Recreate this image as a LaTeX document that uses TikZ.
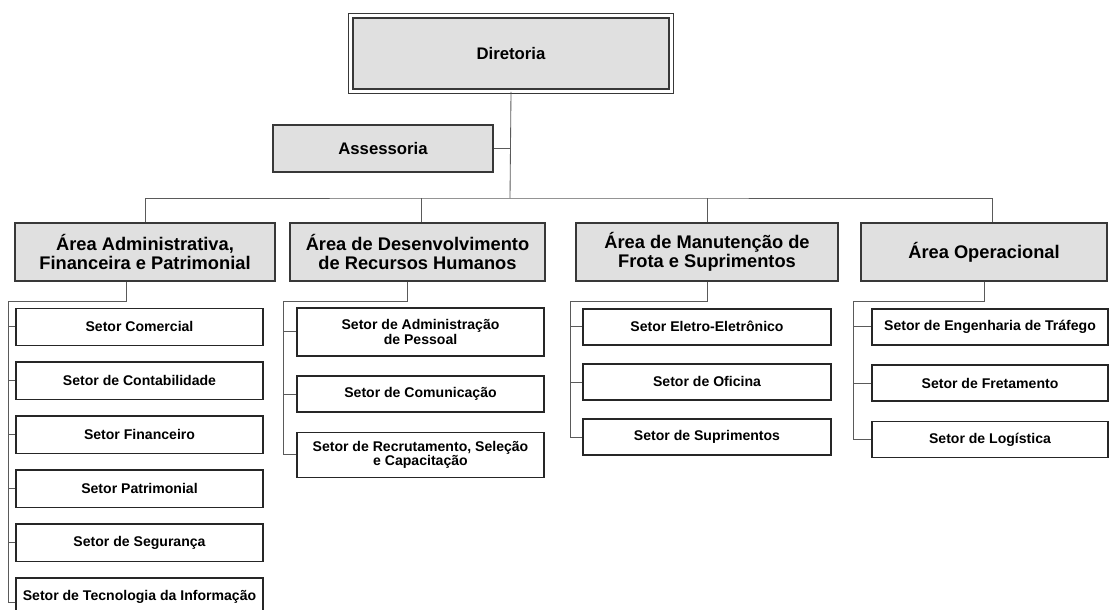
\documentclass[tikz,border=0pt]{standalone}
\usepackage{fontspec}
\setmainfont{Liberation Sans}
\usetikzlibrary{positioning}

\definecolor{boxgray}{HTML}{E0E0E0}
\definecolor{linegray}{HTML}{383838}
\definecolor{wiregray}{HTML}{5A5A5A}

\tikzset{
	topbox/.style={draw=linegray, fill=boxgray, line width=0.9pt, double=white, double distance=2.2pt,
		minimum width=8.01cm, minimum height=1.89cm, font=\bfseries\fontsize{11.9}{13}\selectfont},
	advbox/.style={draw=linegray, fill=boxgray, line width=1.1pt, minimum width=5.5cm,
		minimum height=1.18cm, font=\bfseries\fontsize{11.9}{13}\selectfont},
	areabox/.style={draw=linegray, fill=boxgray, line width=1.3pt, minimum height=1.45cm,
		align=center, inner sep=1pt, font=\bfseries\fontsize{13}{13.5}\selectfont},
	setorbox/.style={draw=black!85, line width=1.1pt, minimum height=0.9cm, anchor=north,
		align=center, inner sep=1pt, font=\bfseries\fontsize{10}{10.5}\selectfont},
	wire/.style={draw=wiregray, line width=0.6pt},
}

\begin{document}
\begin{tikzpicture}[x=0.025cm, y=-0.025cm]
	\useasboundingbox (0,0) rectangle (1110,610);
	%
	\node[topbox] (dir) at (511,53.5) {Diretoria};
	\node[advbox] (asse) at (383,148.5) {Assessoria};
	%
	\node[areabox, minimum width=6.5cm] (admfin) at (145,252) {Área Administrativa,\\Financeira e Patrimonial};
	\node[areabox, minimum width=6.37cm] (rh) at (417.5,252) {Área de Desenvolvimento\\de Recursos Humanos};
	\node[areabox, minimum width=6.55cm] (frota) at (707,252) {Área de Manutenção de\\Frota e Suprimentos};
	\node[areabox, minimum width=6.15cm] (oper) at (984,252) {Área Operacional};
	%
	\begin{scope}[node distance=0.38cm, setorbox/.append style={minimum width=6.18cm, minimum height=0.93cm}]
		\node[setorbox] (comercial) at (139.5,307.5) {Setor Comercial};
		\node[setorbox, below=of comercial] (contab) {Setor de Contabilidade};
		\node[setorbox, below=of contab] (financ) {Setor Financeiro};
		\node[setorbox, below=of financ] (patrim) {Setor Patrimonial};
		\node[setorbox, below=of patrim] (segur) {Setor de Segurança};
		\node[setorbox, below=of segur] (tecinfo) {Setor de Tecnologia da Informação};
	\end{scope}
	\begin{scope}[node distance=0.47cm, setorbox/.append style={minimum width=6.18cm}]
		\node[setorbox, minimum height=1.2cm] (admpes) at (420.5,307) {Setor de Administração\\de Pessoal};
		\node[setorbox, below=of admpes] (comunic) {Setor de Comunicação};
		\node[setorbox, minimum height=1.12cm, below=of comunic] (recrut) {Setor de Recrutamento, Seleção\\e Capacitação};
	\end{scope}
	\begin{scope}[node distance=0.44cm, setorbox/.append style={minimum width=6.2cm}]
		\node[setorbox] (eletro) at (707,308) {Setor Eletro-Eletrônico};
		\node[setorbox, below=of eletro] (oficina) {Setor de Oficina};
		\node[setorbox, below=of oficina] (suprim) {Setor de Suprimentos};
	\end{scope}
	\begin{scope}[node distance=0.47cm, setorbox/.append style={minimum width=5.9cm}]
		\node[setorbox] (engtraf) at (990,308) {Setor de Engenharia de Tráfego};
		\node[setorbox, below=of engtraf] (fretam) {Setor de Fretamento};
		\node[setorbox, below=of fretam] (logist) {Setor de Logística};
	\end{scope}
	%
	\coordinate (bus) at (510,198);
	\draw[wire] (dir.south) -- (bus);
	\draw[wire] (asse.east) -- (asse.east -| bus);
	\draw[wire] (admfin.north) |- (bus) -| ([xshift=0.2cm]oper.north);
	\draw[wire] ([xshift=0.09cm]rh.north) -- ([xshift=0.09cm]rh.north |- bus);
	\draw[wire] (frota.north) -- (frota.north |- bus);
	%
	\coordinate (j1) at (8,301);
	\coordinate (j2) at (283,301);
	\coordinate (j3) at (570,301);
	\coordinate (j4) at (853,301);
	\draw[wire] ([xshift=-0.475cm]admfin.south) |- (j1) |- ([yshift=-0.15cm]tecinfo.west);
	\draw[wire] ([xshift=-0.26cm]rh.south) |- (j2) |- (recrut.west);
	\draw[wire] (frota.south) |- (j3) |- (suprim.west);
	\draw[wire] (oper.south) |- (j4) |- (logist.west);
	\foreach \s in {comercial,contab,financ,patrim,segur}
		\draw[wire] (j1 |- \s.west) -- (\s.west);
	\foreach \s in {admpes,comunic}
		\draw[wire] (j2 |- \s.west) -- (\s.west);
	\foreach \s in {eletro,oficina}
		\draw[wire] (j3 |- \s.west) -- (\s.west);
	\foreach \s in {engtraf,fretam}
		\draw[wire] (j4 |- \s.west) -- (\s.west);
\end{tikzpicture}
\end{document}
